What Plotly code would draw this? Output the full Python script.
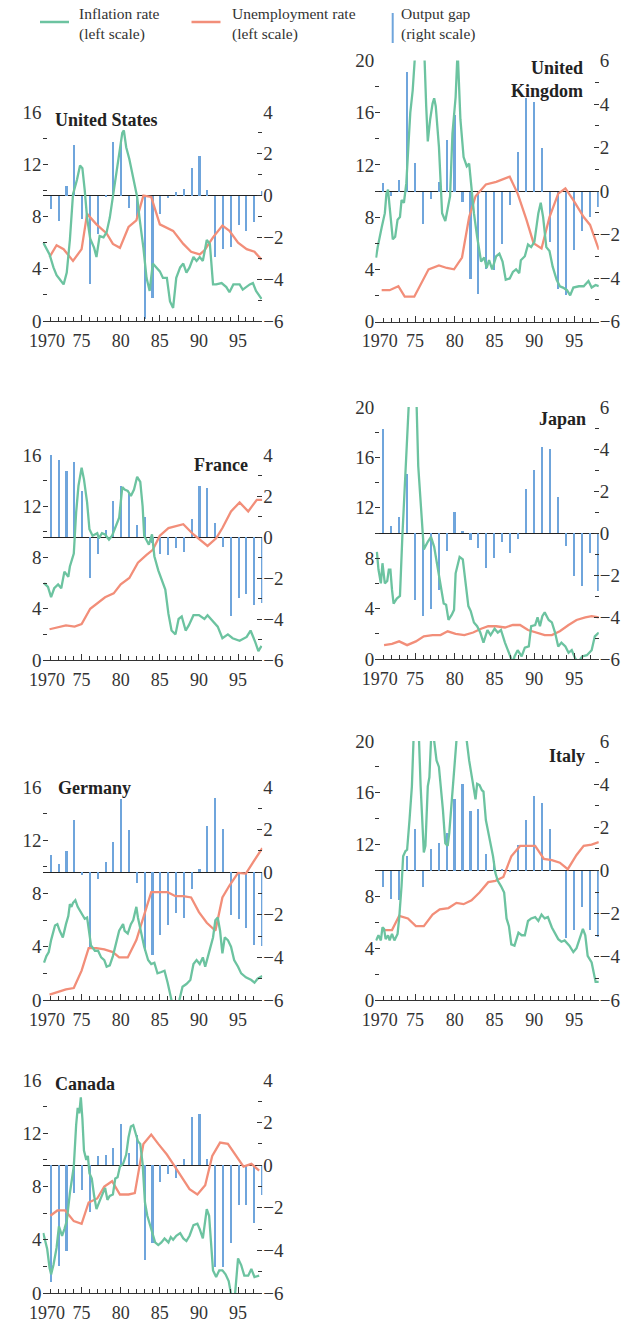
import plotly.graph_objects as go

W, H = 639, 1323

GREEN = "#6cc3a0"
ORANGE = "#f28e79"
BLUE = "#6fa5dc"
TXT = "#333333"
FONT = "Liberation Serif"

GAP_YEARS = list(range(1971, 1999))
X_TICKS = [1970, 1975, 1980, 1985, 1990, 1995]
X_TICK_TEXT = ["\u20071970", "75", "80", "85", "90", "95"]

# ---------------- United States ----------------
US_INFL_T = [1970.1,1970.5,1970.9,1971.4,1971.8,1972.2,1972.7,1973.1,1973.5,1973.9,1974.4,1974.8,1975.1,1975.4,1975.7,1976.1,1976.6,1976.9,1977.3,1977.8,1978.2,1978.6,1979.0,1979.5,1979.9,1980.2,1980.4,1980.7,1981.1,1981.4,1981.6,1981.8,1982.1,1982.4,1982.9,1983.3,1983.7,1984.1,1984.6,1985.0,1985.4,1985.9,1986.3,1986.7,1987.1,1987.6,1988.0,1988.4,1988.8,1989.3,1989.7,1990.1,1990.5,1991.0,1991.4,1991.8,1992.2,1992.9,1993.5,1993.9,1994.4,1995.2,1995.6,1996.5,1996.9,1997.3,1998.0]
US_INFL_V = [6.0,5.6,5.1,4.1,3.5,3.2,2.8,3.7,6.2,9.7,10.8,11.9,11.7,10.0,7.9,6.3,5.6,4.9,6.5,6.4,6.8,7.9,9.5,11.8,13.1,14.4,14.6,13.3,12.4,11.5,10.8,10.3,9.5,7.9,5.6,3.3,2.3,4.4,4.1,3.8,3.3,3.3,1.5,1.0,3.3,4.1,4.4,3.7,4.1,4.9,4.6,4.9,4.6,6.2,5.9,2.8,2.8,2.9,2.6,2.2,2.8,2.8,2.4,2.8,2.9,2.3,1.7]
US_UNEMP_T = [1970.9,1971.8,1972.7,1973.9,1975.0,1975.7,1976.9,1978.2,1979.0,1979.9,1981.0,1982.0,1982.9,1983.9,1985.0,1986.7,1988.0,1989.0,1990.1,1990.7,1991.8,1993.0,1993.9,1995.0,1996.1,1997.1,1998.0]
US_UNEMP_V = [4.9,5.8,5.5,4.6,5.5,8.2,7.4,6.7,5.9,5.6,7.2,7.7,9.6,9.5,7.4,6.9,5.9,5.3,5.1,5.4,6.4,7.3,6.9,6.0,5.5,5.3,4.7]
US_GAP = [-0.64,-1.2,0.48,2.4,-1.12,-4.25,-1.84,-0.05,2.56,2.56,-0.6,-1.12,-5.9,-4.9,-0.88,-0.1,0.16,0.32,1.3,1.9,0.26,-2.96,-2.56,-2.48,-1.41,-1.68,-1.25,0.24]

# ---------------- United Kingdom ----------------
UK_INFL_T = [1970.1,1970.3,1970.8,1971.2,1971.4,1971.6,1971.8,1972.2,1972.5,1972.8,1973.1,1973.3,1973.6,1973.9,1974.2,1974.4,1974.7,1974.9,1975.3,1975.6,1975.9,1976.2,1976.4,1976.6,1976.9,1977.2,1977.4,1977.6,1978.0,1978.4,1978.8,1979.1,1979.4,1979.7,1980.1,1980.35,1980.7,1981.1,1981.5,1981.8,1982.1,1982.4,1982.8,1983.3,1983.7,1984.0,1984.3,1984.7,1985.2,1985.6,1986.0,1986.4,1986.9,1987.3,1987.7,1988.1,1988.3,1988.8,1989.2,1989.6,1990.0,1990.5,1990.8,1991.1,1991.5,1991.9,1992.3,1992.8,1993.2,1993.6,1994.1,1994.5,1994.9,1995.6,1996.2,1996.8,1997.2,1997.7,1998.1]
UK_INFL_V = [4.9,5.7,7.2,8.3,9.8,10.1,8.8,6.3,6.5,7.8,8.0,9.3,9.1,10.6,13.9,16.0,17.7,19.5,24.0,26.0,23.0,20.0,16.5,13.8,15.5,16.7,17.1,16.5,13.4,8.3,7.7,8.7,9.6,14.4,17.2,20.8,15.5,12.6,11.9,12.1,10.1,8.3,6.5,4.6,4.9,4.1,4.7,4.0,5.0,5.2,4.6,3.2,3.3,3.8,4.0,3.7,4.7,5.0,5.9,5.7,6.1,8.3,9.1,8.0,5.7,5.4,4.2,3.2,2.7,2.6,2.4,2.0,2.6,2.7,2.7,3.1,2.6,2.8,2.7]
UK_UNEMP_T = [1970.8,1971.8,1972.9,1973.7,1974.9,1976.7,1978.0,1979.0,1979.9,1980.9,1981.8,1982.6,1983.9,1985.2,1986.9,1987.9,1989.0,1989.9,1990.9,1991.9,1993.0,1993.9,1994.9,1996.2,1997.0,1998.1]
UK_UNEMP_V = [2.4,2.4,2.7,1.9,1.9,4.0,4.3,4.1,4.0,4.9,8.0,9.6,10.5,10.7,11.1,9.8,7.8,6.0,5.6,8.0,9.8,10.2,9.3,8.0,7.4,5.5]
UK_GAP = [0.4,-0.2,0.54,5.5,1.3,-1.5,-0.34,0.43,2.35,3.5,-0.5,-4.0,-4.7,-3.55,-3.6,-2.4,-0.6,1.8,4.3,4.1,2.0,-2.3,-4.5,-4.75,-2.7,-1.8,-1.15,-0.7]

# ---------------- France ----------------
FR_INFL_T = [1970.2,1970.7,1971.1,1971.5,1972.0,1972.4,1972.8,1973.3,1973.5,1973.7,1974.0,1974.3,1974.6,1975.0,1975.3,1975.7,1976.0,1976.4,1977.0,1977.2,1977.6,1978.0,1978.5,1978.9,1979.3,1979.8,1980.2,1980.5,1980.9,1981.3,1981.7,1982.1,1982.5,1982.8,1983.0,1983.6,1984.0,1984.3,1984.8,1985.2,1985.7,1986.1,1986.5,1987.0,1987.4,1987.8,1988.3,1988.7,1989.3,1990.0,1990.7,1991.1,1991.7,1992.4,1993.0,1993.7,1994.3,1995.2,1996.1,1996.6,1997.2,1997.6,1998.0]
FR_INFL_V = [6.0,5.7,4.9,5.6,5.9,5.6,6.9,6.5,7.3,7.7,8.3,11.5,13.6,15.0,14.1,12.3,10.2,9.7,9.9,9.5,9.9,9.8,9.4,9.7,10.3,11.1,13.5,13.3,13.2,12.8,13.3,14.3,13.9,12.0,9.7,9.0,9.8,8.1,7.0,6.4,5.5,3.6,2.3,2.0,3.2,3.4,2.3,2.7,3.5,3.5,3.2,3.5,3.1,2.6,1.7,2.0,1.7,1.5,1.8,2.3,1.4,0.7,1.1]
FR_UNEMP_T = [1970.9,1973.0,1974.1,1975.0,1976.1,1977.0,1978.0,1979.1,1980.0,1981.1,1982.2,1983.3,1984.1,1985.0,1986.1,1988.0,1989.3,1991.1,1992.2,1993.0,1994.1,1995.2,1996.3,1997.4,1998.1]
FR_UNEMP_V = [2.4,2.7,2.6,2.8,4.0,4.4,4.9,5.2,5.9,6.4,7.6,8.2,8.6,9.7,10.3,10.6,9.8,8.9,9.5,10.3,11.6,12.3,11.6,12.5,12.5]
FR_GAP = [4.05,3.75,3.2,3.67,2.25,-2.0,-0.82,0.36,1.75,2.5,2.1,0.6,0.97,-0.3,-0.82,-0.87,-0.54,-0.75,0.9,2.5,2.38,0.66,-0.5,-3.85,-2.97,-2.8,-3.33,-3.2]

# ---------------- Japan ----------------
JP_INFL_T = [1970.2,1970.4,1970.7,1970.9,1971.2,1971.5,1971.7,1971.9,1972.1,1972.3,1972.7,1973.1,1973.4,1973.7,1973.9,1974.2,1974.5,1974.8,1975.2,1975.4,1975.7,1976.1,1976.6,1977.0,1977.4,1977.8,1978.2,1978.6,1978.9,1979.2,1979.6,1979.9,1980.1,1980.6,1981.0,1981.4,1981.7,1982.0,1982.4,1982.8,1983.2,1983.6,1984.1,1984.5,1985.0,1985.4,1985.8,1986.3,1986.7,1987.1,1987.3,1987.5,1987.9,1988.4,1988.8,1989.3,1989.6,1990.1,1990.4,1990.7,1991.0,1991.3,1991.8,1992.2,1992.6,1993.0,1993.4,1993.9,1994.3,1994.7,1995.1,1995.5,1996.0,1996.6,1997.2,1997.6,1998.1]
JP_INFL_V = [8.5,7.1,6.0,7.6,6.0,6.2,7.1,7.1,5.5,4.4,4.8,5.0,9.7,13.4,16.3,20.5,24.0,23.0,20.0,15.3,12.6,8.7,9.3,9.7,8.9,7.4,6.0,4.4,4.3,3.1,3.5,3.9,6.8,8.1,7.9,5.5,4.2,3.8,2.9,2.6,2.1,1.3,2.3,1.9,2.4,2.1,2.3,1.3,0.7,0.0,-0.4,0.2,0.7,0.2,0.9,1.0,2.6,2.7,3.3,2.6,3.4,3.7,3.1,2.9,2.1,1.0,1.3,1.0,0.5,0.7,0.1,-0.3,0.2,0.3,0.7,1.8,2.1]
JP_UNEMP_T = [1971.1,1972.1,1973.0,1974.0,1975.1,1976.1,1977.2,1978.2,1979.1,1980.1,1981.2,1982.3,1983.3,1984.2,1985.2,1986.3,1987.3,1988.2,1989.2,1990.3,1991.3,1992.2,1993.2,1994.3,1995.3,1996.4,1997.2,1998.1]
JP_UNEMP_V = [1.1,1.2,1.4,1.1,1.4,1.8,1.9,1.9,2.2,2.0,1.9,2.1,2.4,2.6,2.6,2.5,2.7,2.7,2.3,2.1,1.9,1.9,2.2,2.7,3.1,3.3,3.4,3.3]
JP_GAP = [4.95,0.32,0.75,2.8,-3.2,-3.95,-3.6,-2.7,-0.87,0.98,0.1,-0.32,-0.73,-1.68,-1.2,-0.41,-0.97,-0.29,2.1,3.0,4.08,4.0,1.7,-0.6,-2.06,-2.5,-0.97,-2.75]

# ---------------- Germany ----------------
DE_INFL_T = [1970.2,1970.5,1970.8,1971.1,1971.6,1971.9,1972.2,1972.6,1973.0,1973.3,1973.5,1973.7,1973.9,1974.2,1974.5,1975.0,1975.4,1975.7,1975.9,1976.2,1976.7,1977.1,1977.5,1977.9,1978.2,1978.6,1979.0,1979.4,1979.8,1980.3,1980.5,1980.9,1981.3,1981.6,1982.0,1982.2,1982.6,1983.0,1983.5,1983.9,1984.3,1984.7,1985.2,1985.6,1986.0,1986.3,1986.6,1987.1,1987.5,1987.9,1988.4,1988.9,1989.3,1989.7,1990.1,1990.5,1990.8,1991.3,1991.8,1992.1,1992.4,1992.7,1993.0,1993.3,1993.7,1994.1,1994.5,1995.0,1995.4,1996.0,1996.7,1997.1,1997.5,1998.1]
DE_INFL_V = [2.8,3.3,3.6,4.5,5.6,5.7,5.2,4.7,5.7,6.3,7.2,7.0,7.3,7.5,7.0,6.5,6.1,6.2,5.2,4.1,3.7,3.7,3.2,3.0,2.5,2.6,3.3,4.2,5.2,5.7,5.2,5.0,5.7,6.0,7.0,6.2,5.2,4.0,3.0,2.7,2.8,2.0,2.1,2.2,1.3,0.45,-0.3,-0.8,0.0,1.0,1.2,1.5,2.7,3.0,2.7,3.2,2.5,3.6,4.7,6.0,6.2,5.2,3.5,4.7,4.5,4.0,3.0,2.5,2.0,1.7,1.5,1.3,1.6,1.8]
DE_UNEMP_T = [1970.9,1972.0,1973.0,1974.0,1975.0,1975.9,1976.9,1977.9,1979.0,1979.8,1980.9,1982.0,1983.0,1983.9,1984.9,1986.0,1987.0,1988.0,1989.0,1990.0,1991.0,1992.1,1993.0,1993.9,1995.0,1996.0,1997.1,1998.1]
DE_UNEMP_V = [0.4,0.6,0.8,0.9,2.2,3.9,3.9,3.8,3.6,3.2,3.2,4.5,6.5,8.1,8.1,8.1,7.8,7.8,7.7,6.6,5.8,5.2,7.7,8.6,9.55,9.5,10.5,11.4]
DE_GAP = [0.8,0.37,0.98,2.47,-0.14,-3.5,-0.34,0.47,1.4,3.45,1.97,-0.5,-3.7,-3.9,-2.95,-2.5,-1.9,-2.17,-0.77,0.16,2.15,3.5,2.05,-2.0,-2.2,-2.6,-3.4,-3.45]

# ---------------- Italy ----------------
IT_INFL_T = [1970.1,1970.4,1970.7,1970.9,1971.1,1971.3,1971.6,1971.8,1972.1,1972.4,1972.8,1973.0,1973.3,1973.5,1973.8,1974.0,1974.3,1974.6,1974.8,1975.1,1975.5,1975.7,1976.1,1976.3,1976.6,1976.8,1977.0,1977.2,1977.4,1977.7,1978.0,1978.5,1978.8,1979.1,1979.3,1979.6,1979.9,1980.2,1980.6,1981.0,1981.5,1981.8,1982.2,1982.6,1982.8,1983.1,1983.4,1983.6,1983.9,1984.4,1984.8,1985.1,1985.4,1985.8,1986.2,1986.5,1986.8,1987.1,1987.5,1988.0,1988.4,1988.8,1989.2,1989.6,1990.1,1990.5,1990.9,1991.3,1991.7,1992.2,1992.6,1993.0,1993.4,1993.8,1994.4,1994.9,1995.3,1995.8,1996.1,1996.4,1996.7,1997.2,1997.7,1998.1]
IT_INFL_V = [4.6,5.0,4.6,5.6,5.5,4.7,5.0,4.6,5.1,4.6,5.1,6.3,8.8,11.1,11.5,11.6,13.9,16.5,20.0,24.5,20.0,16.5,11.4,11.9,16.5,17.2,20.0,21.5,20.0,18.5,18.0,14.7,12.1,11.9,12.9,15.2,18.0,20.0,21.8,21.5,20.0,18.5,17.0,15.5,16.7,16.6,16.2,16.1,13.9,12.4,11.1,9.8,9.2,8.8,8.3,6.3,5.7,4.3,4.2,5.2,5.0,5.0,6.1,6.3,6.4,6.1,6.6,6.3,6.4,5.6,5.2,4.7,4.5,4.6,4.2,3.7,4.0,5.0,5.5,5.0,3.4,2.9,1.4,1.4]
IT_UNEMP_T = [1970.9,1972.1,1973.0,1974.1,1975.1,1976.1,1977.2,1978.1,1979.2,1980.2,1981.1,1982.1,1983.1,1984.2,1985.1,1986.1,1987.1,1988.2,1989.1,1990.1,1991.2,1992.2,1993.2,1994.2,1995.3,1996.2,1997.2,1998.1]
IT_UNEMP_V = [5.4,5.4,6.5,6.3,5.7,5.7,6.6,7.0,7.1,7.5,7.4,7.7,8.3,9.1,9.2,9.5,11.1,11.9,11.9,11.9,10.9,10.8,10.6,10.1,11.2,11.9,12.0,12.2]
IT_GAP = [-0.77,-1.3,-1.38,0.69,1.92,-0.77,1.0,1.27,1.76,3.3,4.03,2.76,2.84,0.77,0.46,0.08,-0.05,1.18,2.34,3.45,3.11,1.92,0.0,-3.11,-2.76,-1.69,-2.76,-3.07]

# ---------------- Canada ----------------
CA_INFL_T = [1970.1,1970.6,1970.9,1971.1,1971.4,1971.8,1972.1,1972.5,1972.8,1973.1,1973.5,1974.0,1974.3,1974.5,1974.7,1974.9,1975.1,1975.3,1975.6,1975.8,1976.0,1976.3,1976.6,1976.9,1977.3,1977.6,1978.0,1978.3,1978.6,1979.0,1979.3,1979.6,1979.9,1980.3,1980.7,1981.0,1981.3,1981.6,1982.0,1982.2,1982.5,1982.8,1983.1,1983.4,1983.7,1984.1,1984.4,1984.8,1985.2,1985.6,1986.1,1986.4,1986.7,1987.1,1987.6,1988.0,1988.4,1988.8,1989.3,1989.8,1990.1,1990.5,1991.0,1991.3,1991.6,1991.8,1992.2,1992.6,1993.0,1993.4,1993.8,1994.1,1994.6,1995.0,1995.4,1995.8,1996.3,1996.7,1997.1,1997.7]
CA_INFL_V = [4.5,3.3,1.9,1.4,2.1,3.4,5.0,4.3,4.8,5.4,7.5,9.5,12.6,13.9,13.5,14.7,13.1,10.7,10.0,10.3,9.0,8.6,7.3,6.3,6.9,7.4,7.9,7.0,7.3,7.4,8.6,8.7,9.5,9.7,10.4,11.7,12.5,12.6,11.8,11.4,11.2,9.7,6.8,5.8,5.2,4.5,3.8,3.6,3.8,4.1,3.8,4.2,4.0,4.3,4.5,4.1,3.9,4.3,5.1,5.2,4.8,4.1,6.3,5.8,3.4,1.7,1.2,1.7,1.7,1.4,0.9,-0.05,-0.2,2.6,2.1,1.3,1.3,1.8,1.2,1.3]
CA_UNEMP_T = [1971.0,1971.9,1972.9,1974.0,1975.0,1975.9,1977.0,1977.9,1978.9,1979.9,1981.0,1981.8,1982.9,1983.9,1984.8,1985.9,1986.8,1987.8,1988.8,1989.8,1990.8,1991.7,1992.7,1993.7,1994.7,1995.7,1996.7,1997.7]
CA_UNEMP_V = [5.8,6.2,6.2,5.4,5.2,6.8,7.1,8.0,8.4,7.4,7.4,7.5,11.2,11.9,11.2,10.4,9.6,8.7,7.8,7.4,8.1,10.3,11.3,11.2,10.3,9.5,9.7,9.2]
CA_GAP = [-5.47,-4.75,-4.05,-1.3,-1.16,-2.21,0.41,0.49,0.79,1.94,0.56,1.4,-4.43,-3.63,-0.78,-0.43,-0.61,0.29,2.27,2.4,0.29,-4.78,-4.78,-3.63,-1.85,-1.88,-2.72,-1.42]

# layout of panels (pixel geometry)
COLS = {0: (42.5, 262.3), 1: (375.3, 598.8)}
PANELS = [
    dict(title="United States", infl=(US_INFL_T, US_INFL_V), unemp=(US_UNEMP_T, US_UNEMP_V), gap=US_GAP,
         col=0, top=112, bottom=321, lmax=16, rmax=4, tx=53, ty=120, tanchor="left"),
    dict(title="United<br>Kingdom", infl=(UK_INFL_T, UK_INFL_V), unemp=(UK_UNEMP_T, UK_UNEMP_V), gap=UK_GAP,
         col=1, top=60.5, bottom=321.5, lmax=20, rmax=6, tx=585, ty=79, tanchor="right"),
    dict(title="France", infl=(FR_INFL_T, FR_INFL_V), unemp=(FR_UNEMP_T, FR_UNEMP_V), gap=FR_GAP,
         col=0, top=455, bottom=660, lmax=16, rmax=4, tx=250, ty=465, tanchor="right"),
    dict(title="Japan", infl=(JP_INFL_T, JP_INFL_V), unemp=(JP_UNEMP_T, JP_UNEMP_V), gap=JP_GAP,
         col=1, top=407, bottom=659, lmax=20, rmax=6, tx=588, ty=419, tanchor="right"),
    dict(title="Germany", infl=(DE_INFL_T, DE_INFL_V), unemp=(DE_UNEMP_T, DE_UNEMP_V), gap=DE_GAP,
         col=0, top=787, bottom=1000, lmax=16, rmax=4, tx=56, ty=788, tanchor="left"),
    dict(title="Italy", infl=(IT_INFL_T, IT_INFL_V), unemp=(IT_UNEMP_T, IT_UNEMP_V), gap=IT_GAP,
         col=1, top=741, bottom=1000, lmax=20, rmax=6, tx=587, ty=756, tanchor="right"),
    dict(title="Canada", infl=(CA_INFL_T, CA_INFL_V), unemp=(CA_UNEMP_T, CA_UNEMP_V), gap=CA_GAP,
         col=0, top=1080, bottom=1293, lmax=16, rmax=4, tx=53, ty=1084, tanchor="left"),
]


def px_x(p):
    return p / W


def px_y(p):
    return 1 - p / H


def sid(n):
    return "" if n == 1 else str(n)


y_tick_font = dict(family=FONT, size=19, color=TXT)
x_tick_font = dict(family=FONT, size=18, color=TXT)
fig = go.Figure()
layout = dict(
    width=W, height=H, autosize=False,
    margin=dict(l=0, r=0, t=0, b=0, pad=0, autoexpand=False),
    paper_bgcolor="white", plot_bgcolor="white",
    showlegend=False, bargap=0,
    font=dict(family=FONT, color=TXT),
)
annotations = []
shapes = []

for i, p in enumerate(PANELS, start=1):
    xn = sid(i)
    yg = sid(2 * i - 1)  # gap axis (right), base
    yr = sid(2 * i)      # rate axis (left), overlay
    x0, x1 = COLS[p["col"]]
    xdom = [px_x(x0), px_x(x1)]
    ydom = [px_y(p["bottom"]), px_y(p["top"])]

    fig.add_trace(go.Bar(x=GAP_YEARS, y=p["gap"], width=0.27, marker=dict(color=BLUE, line=dict(width=0)),
                         xaxis="x" + xn, yaxis="y" + yg, hoverinfo="skip"))
    fig.add_trace(go.Scatter(x=p["unemp"][0], y=p["unemp"][1], mode="lines",
                             line=dict(color=ORANGE, width=2.3), xaxis="x" + xn, yaxis="y" + yr))
    fig.add_trace(go.Scatter(x=p["infl"][0], y=p["infl"][1], mode="lines",
                             line=dict(color=GREEN, width=2.3), xaxis="x" + xn, yaxis="y" + yr))

    layout["xaxis" + xn] = dict(
        domain=xdom, anchor="y" + yg, range=[1970, 1998.1], automargin=False,
        tickmode="array", tickvals=X_TICKS, ticktext=X_TICK_TEXT,
        ticks="inside", ticklen=6, tickwidth=1, tickcolor=TXT,
        minor=dict(dtick=1, tick0=1970, ticks="inside", ticklen=4, tickwidth=1, tickcolor=TXT),
        showline=True, linecolor=TXT, linewidth=1, showgrid=False, zeroline=False,
        tickfont=x_tick_font, fixedrange=True, ticklabelstandoff=3,
    )
    layout["yaxis" + yg] = dict(
        domain=ydom, anchor="x" + xn, side="right", range=[-6, p["rmax"]], automargin=False,
        tickmode="array", tickvals=list(range(-6, p["rmax"] + 1, 2)),
        ticks="inside", ticklen=5, tickwidth=1, tickcolor=TXT,
        minor=dict(dtick=1, tick0=0, ticks="inside", ticklen=4, tickwidth=1, tickcolor=TXT),
        showline=False, showgrid=False,
        zeroline=True, zerolinecolor="#222222", zerolinewidth=1,
        tickfont=y_tick_font, fixedrange=True,
    )
    layout["yaxis" + yr] = dict(
        overlaying="y" + yg, anchor="x" + xn, side="left", range=[0, p["lmax"]], automargin=False,
        tickmode="array", tickvals=list(range(0, p["lmax"] + 1, 4)),
        ticks="inside", ticklen=5, tickwidth=1, tickcolor=TXT,
        minor=dict(dtick=2, tick0=0, ticks="inside", ticklen=4, tickwidth=1, tickcolor=TXT),
        showline=False, showgrid=False, zeroline=False,
        tickfont=y_tick_font, fixedrange=True,
    )
    annotations.append(dict(
        text="<b>%s</b>" % p["title"], x=px_x(p["tx"]), y=px_y(p["ty"]), xref="paper", yref="paper",
        xanchor=p["tanchor"], yanchor="middle", align=p["tanchor"], showarrow=False,
        font=dict(family=FONT, size=18, color="#222222"),
    ))

# legend (drawn manually)
LEGEND = [
    dict(kind="h", color=GREEN, x0=40, x1=69, y=22, tx=76.5, text="Inflation rate<br>(left scale)"),
    dict(kind="h", color=ORANGE, x0=191.5, x1=220.5, y=22, tx=229.5, text="Unemployment rate<br>(left scale)"),
    dict(kind="v", color=BLUE, x0=392.7, y0=13, y1=43, tx=399, text="Output gap<br>(right scale)"),
]
for item in LEGEND:
    if item["kind"] == "h":
        shapes.append(dict(type="line", xref="paper", yref="paper",
                           x0=px_x(item["x0"]), x1=px_x(item["x1"]), y0=px_y(item["y"]), y1=px_y(item["y"]),
                           line=dict(color=item["color"], width=2.5)))
    else:
        shapes.append(dict(type="line", xref="paper", yref="paper",
                           x0=px_x(item["x0"]), x1=px_x(item["x0"]), y0=px_y(item["y0"]), y1=px_y(item["y1"]),
                           line=dict(color=item["color"], width=2)))
    annotations.append(dict(
        text=item["text"], x=px_x(item["tx"]), y=px_y(24), xref="paper", yref="paper",
        xanchor="left", yanchor="middle", align="left", showarrow=False,
        font=dict(family=FONT, size=15.5, color=TXT),
    ))

layout["annotations"] = annotations
layout["shapes"] = shapes
fig.update_layout(**layout)
fig.write_html("out.html")
